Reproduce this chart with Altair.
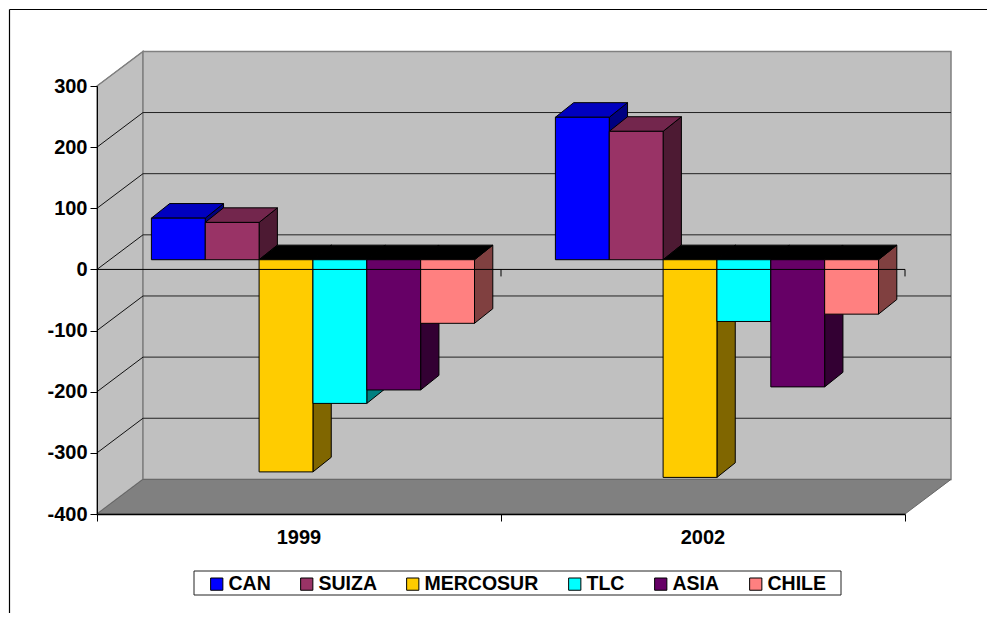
import altair as alt
import pandas as pd

YEARS = ["1999", "2002"]
SERIES = ["CAN", "SUIZA", "MERCOSUR", "TLC", "ASIA", "CHILE"]
VALUES_1999 = [68, 61, -347, -235, -213, -104]
VALUES_2002 = [233, 210, -356, -101, -208, -89]
COLORS = ["#0000FF", "#993366", "#FFCC00", "#00FFFF", "#660066", "#FF8080"]
TOPS = ["#0000BF", "#73264D", "#000000", "#000000", "#000000", "#000000"]
SIDES = ["#000080", "#4D1A33", "#806600", "#008080", "#330033", "#804040"]
Y_TICKS = [300, 200, 100, 0, -100, -200, -300, -400]
GRID_VALUES = [200, 100, 0, -100, -200, -300]

FONT = "Liberation Sans"
W, H = 808, 428
Y_MIN, Y_MAX = -400, 300
PX_Y = H / (Y_MAX - Y_MIN)
PX_X = W / 2

WALL_DX, WALL_DV = 46 / PX_X, 34.6 / PX_Y
BAR_W = 53.85 / PX_X
BAR_START = 54.4 / PX_X
BAR_DX, BAR_DV = 18.3 / PX_X, 14.6 / PX_Y
BAR_LIFT = 9.7 / PX_Y
TICK_DV = 7 / PX_Y

xs = alt.Scale(domain=[0, 2], nice=False, zero=False)
ys = alt.Scale(domain=[Y_MIN, Y_MAX], nice=False, zero=False)
x_axis = alt.Axis(values=[0, 1, 2], labels=False, title=None, grid=False,
                  domainColor="#000000", domainWidth=1.5, tickColor="#000000",
                  tickSize=7, zindex=1)
y_axis = alt.Axis(values=Y_TICKS, title=None, grid=False, domainColor="#000000",
                  tickColor="#000000", tickSize=7, labelFont=FONT,
                  labelFontSize=20, labelFontWeight="bold", labelColor="black",
                  labelPadding=3, zindex=1, labelExpr="'' + datum.value")
X = lambda f: alt.X(f, type="quantitative", scale=xs, axis=x_axis)
Y = lambda f: alt.Y(f, type="quantitative", scale=ys, axis=y_axis)
one = pd.DataFrame({"k": [0]})

layers = []

# left wall
left = pd.DataFrame({"x": [0, WALL_DX], "lo": [Y_MIN, Y_MIN + WALL_DV], "hi": [Y_MAX, Y_MAX + WALL_DV]})
layers.append(alt.Chart(left).mark_area(fill="#C0C0C0", stroke="#808080", strokeWidth=1.5).encode(
    x=X("x"), y=Y("lo"), y2="hi"))

# back wall
back = pd.DataFrame({"x": [WALL_DX], "x2": [2 + WALL_DX], "y": [Y_MIN + WALL_DV], "y2": [Y_MAX + WALL_DV]})
layers.append(alt.Chart(back).mark_rect(fill="#C0C0C0", stroke="#808080", strokeWidth=1.5).encode(
    x=X("x"), x2="x2", y=Y("y"), y2="y2"))

# floor
floor = pd.DataFrame({"y": [Y_MIN, Y_MIN + WALL_DV], "a": [0, WALL_DX], "b": [2, 2 + WALL_DX]})
layers.append(alt.Chart(floor).mark_area(orient="horizontal", fill="#808080", stroke="#666666", strokeWidth=1).encode(
    y=Y("y"), x=X("a"), x2="b"))

# gridlines
grid = pd.DataFrame({"v": GRID_VALUES})
grid["v2"] = grid["v"] + WALL_DV
grid["x0"], grid["x1"], grid["x2"] = 0.0, WALL_DX, 2 + WALL_DX
layers.append(alt.Chart(grid).mark_rule(color="#111111", strokeWidth=1).encode(
    x=X("x0"), x2="x1", y=Y("v"), y2="v2"))
layers.append(alt.Chart(grid).mark_rule(color="#222222", strokeWidth=1).encode(
    x=X("x1"), x2="x2", y=Y("v2"), y2="v2"))
edge = pd.DataFrame({"x": [0.0], "x2": [WALL_DX], "y": [Y_MAX], "y2": [Y_MAX + WALL_DV]})
layers.append(alt.Chart(edge).mark_rule(color="#808080", strokeWidth=1).encode(
    x=X("x"), x2="x2", y=Y("y"), y2="y2"))

legend = alt.Legend(
    orient="none", legendX=110, legendY=488, direction="horizontal", columns=6, title=None,
    symbolType="square", symbolSize=150, symbolStrokeColor="black", symbolStrokeWidth=1,
    symbolOpacity=1, labelFont=FONT, labelFontSize=19.5, labelFontWeight="bold", labelColor="black",
    columnPadding=26, labelOffset=2, padding=0, labelLimit=200,
)
color_scale = alt.Scale(domain=SERIES, range=COLORS)

box = alt.Chart(one).mark_rect(fill="white", stroke="#222222", strokeWidth=1).encode(
    x=alt.value(97), x2=alt.value(744), y=alt.value(485), y2=alt.value(509))
layers.append(box)

# bars, painted left to right
for year_i, values in enumerate([VALUES_1999, VALUES_2002]):
    for i, (name, v) in enumerate(zip(SERIES, values)):
        x0 = year_i + BAR_START + i * BAR_W
        x1 = x0 + BAR_W
        hi = max(v, 0) + BAR_LIFT
        lo = min(v, 0) + BAR_LIFT
        side = pd.DataFrame({"x": [x1, x1 + BAR_DX], "lo": [lo, lo + BAR_DV], "hi": [hi, hi + BAR_DV]})
        layers.append(alt.Chart(side).mark_area(fill=SIDES[i], stroke="#000000", strokeWidth=1).encode(
            x=X("x"), y=Y("lo"), y2="hi"))
        top = pd.DataFrame({"y": [hi, hi + BAR_DV], "a": [x0, x0 + BAR_DX], "b": [x1, x1 + BAR_DX]})
        layers.append(alt.Chart(top).mark_area(orient="horizontal", fill=TOPS[i], stroke="#000000", strokeWidth=1).encode(
            y=Y("y"), x=X("a"), x2="b"))
        front = pd.DataFrame({"x": [x0], "x2": [x1], "y": [lo], "y2": [hi], "serie": [name]})
        layers.append(alt.Chart(front).mark_rect(stroke="#000000", strokeWidth=1).encode(
            x=X("x"), x2="x2", y=Y("y"), y2="y2",
            color=alt.Color("serie:N", scale=color_scale, legend=legend)))

# zero line and its ticks, over the bars
zero = pd.DataFrame({"x": [0.0], "x2": [2.0], "y": [0]})
layers.append(alt.Chart(zero).mark_rule(color="#000000", strokeWidth=1).encode(
    x=X("x"), x2="x2", y=Y("y")))
zt = pd.DataFrame({"x": [1.0, 2.0], "y": [0, 0], "y2": [-TICK_DV, -TICK_DV]})
layers.append(alt.Chart(zt).mark_rule(color="#000000", strokeWidth=1).encode(
    x=X("x"), y=Y("y"), y2="y2"))

# year labels
year_df = pd.DataFrame({"x": [0.5, 1.5], "t": YEARS})
layers.append(alt.Chart(year_df).mark_text(
    font=FONT, fontSize=20, fontWeight="bold", color="black", baseline="alphabetic").encode(
    x=X("x"), y=alt.value(458), text="t:N"))

# outer frame
layers.append(alt.Chart(one).mark_rule(color="#000000", strokeWidth=1.2).encode(
    x=alt.value(-87.5), x2=alt.value(890), y=alt.value(-76.5)))
layers.append(alt.Chart(one).mark_rule(color="#000000", strokeWidth=1.2).encode(
    x=alt.value(-87.5), y=alt.value(-76.5), y2=alt.value(527)))

chart = alt.layer(*layers).resolve_scale(color="shared").properties(
    width=W, height=H,
    autosize=alt.AutoSizeParams(type="none"),
    padding={"left": 89, "top": 78, "right": 82, "bottom": 99},
    background="white",
).configure_view(stroke=None)

chart.save("out.html", embed_options={"renderer": "svg", "actions": False})
